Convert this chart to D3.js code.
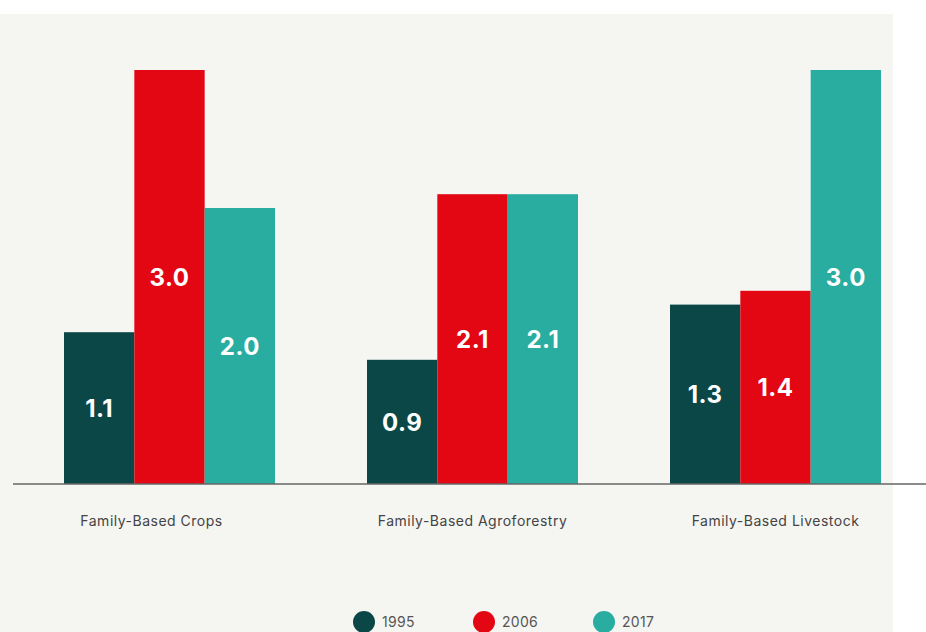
<!DOCTYPE html>
<html>
<head>
<meta charset="utf-8">
<script src="https://cdn.jsdelivr.net/npm/d3@7"></script>
<style>
  html, body { margin: 0; padding: 0; background: #ffffff; }
  svg { display: block; }
</style>
</head>
<body>
<svg id="chart" width="926" height="632"></svg>
<script>
// Categories, years and values
const categories = ["Family-Based Crops", "Family-Based Agroforestry", "Family-Based Livestock"];
const years = ["1995", "2006", "2017"];
const values1995 = [1.1, 0.9, 1.3];
const values2006 = [3.0, 2.1, 1.4];
const values2017 = [2.0, 2.1, 3.0];
const colors = ["#0c4747", "#e30613", "#28ada0"];

const seriesValues = [values1995, values2006, values2017];
const rows = categories.map((c, i) => ({
  category: c,
  bars: years.map((y, j) => ({ year: y, value: seriesValues[j][i], color: colors[j] }))
}));

const width = 926, height = 632;
const svg = d3.select("#chart");

// Panel background
svg.append("rect").attr("x", 0).attr("y", 14).attr("width", 893).attr("height", 618)
  .attr("fill", "#f5f5f2");

const baseline = 484;
const x0 = d3.scaleBand().domain(categories).range([18, 927]).paddingInner(0).paddingOuter(0);
const x1 = d3.scaleBand().domain(years).range([0, 211]);
const y = d3.scaleLinear().domain([0, 3.0]).range([baseline, 70]);

const groupOffset = (x0.bandwidth() - 211) / 2;

const groups = svg.append("g").selectAll("g").data(rows).join("g")
  .attr("transform", d => `translate(${x0(d.category) + groupOffset},0)`);

groups.selectAll("rect").data(d => d.bars).join("rect")
  .attr("x", d => x1(d.year))
  .attr("y", d => y(d.value))
  .attr("width", x1.bandwidth())
  .attr("height", d => baseline - y(d.value))
  .attr("fill", d => d.color);

groups.selectAll("text.val").data(d => d.bars).join("text")
  .attr("class", "val")
  .attr("x", d => x1(d.year) + x1.bandwidth() / 2)
  .attr("y", d => (y(d.value) + baseline) / 2)
  .attr("dy", "0.36em")
  .attr("text-anchor", "middle")
  .attr("font-family", "Inter, 'Open Sans', sans-serif")
  .attr("font-weight", 700)
  .attr("font-size", 24)
  .attr("letter-spacing", 0.5)
  .attr("fill", "#ffffff")
  .text(d => d3.format(".1f")(d.value));

// Baseline axis
const axis = d3.axisBottom(x0).tickSize(0).tickPadding(32);
const ax = svg.append("g").attr("transform", `translate(0,${baseline})`).call(axis);
ax.select(".domain").attr("d", `M13,0H926`).attr("stroke", "#666").attr("stroke-width", 1.5);
ax.selectAll(".tick text")
  .attr("font-family", "Inter, 'Open Sans', sans-serif")
  .attr("font-size", 14)
  .attr("letter-spacing", 0.5)
  .attr("fill", "#444");
ax.selectAll(".tick").filter((d, i) => i === 0).select("text").attr("dx", -18);

// Legend
const legend = svg.append("g").selectAll("g").data(years).join("g")
  .attr("transform", (d, i) => `translate(${364 + i * 120},622)`);
legend.append("circle").attr("r", 11).attr("fill", (d, i) => colors[i]);
legend.append("text")
  .attr("x", 18).attr("dy", "0.35em")
  .attr("font-family", "Inter, 'Open Sans', sans-serif")
  .attr("font-size", 14)
  .attr("letter-spacing", 0.3)
  .attr("fill", "#555")
  .text(d => d);
</script>
</body>
</html>
